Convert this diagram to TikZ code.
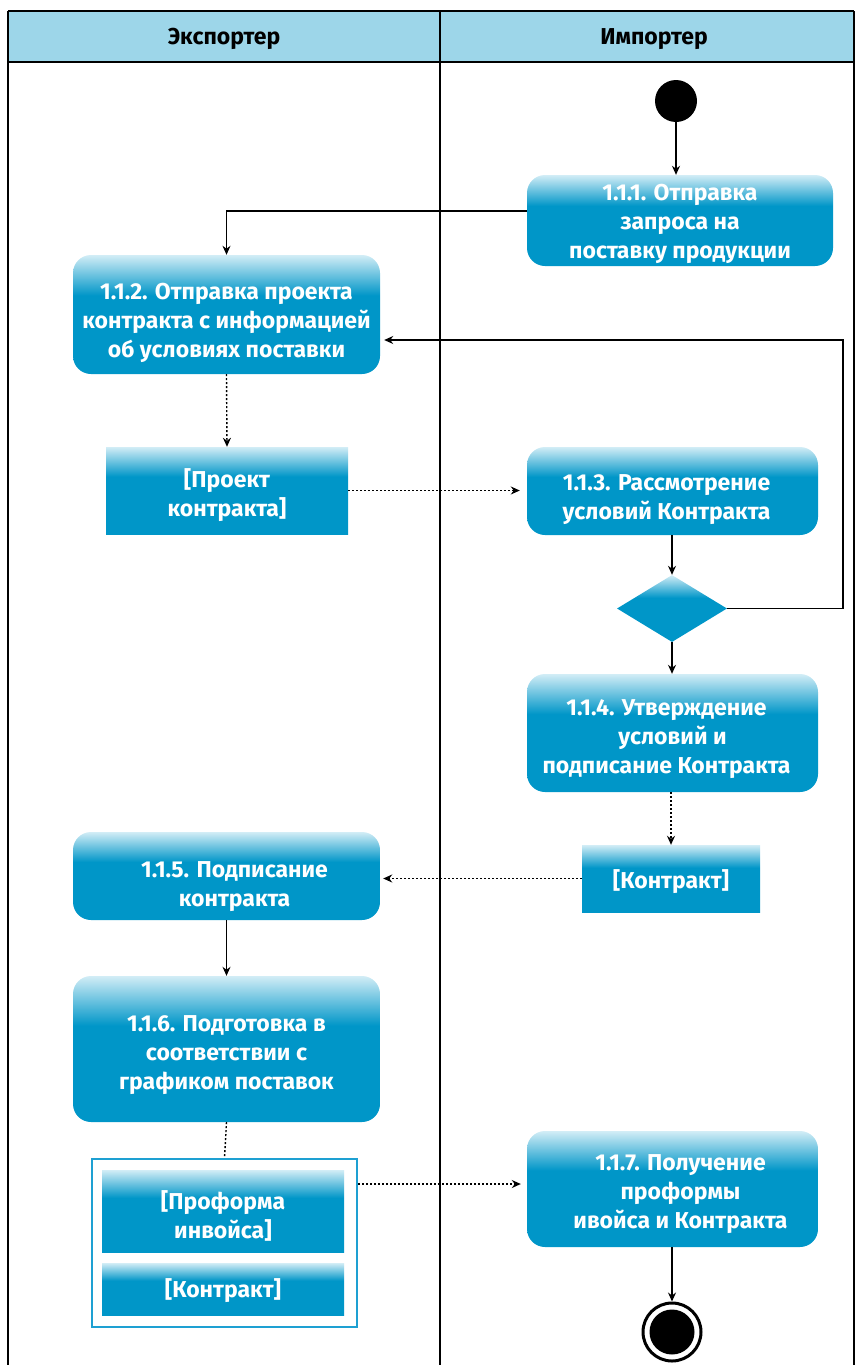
\documentclass[tikz,border=0pt]{standalone}
\usepackage{fontspec}
\setmainfont{Fira Sans}
\usetikzlibrary{arrows.meta,shapes.geometric}
\definecolor{actblue}{RGB}{0,150,200}
\definecolor{actlight}{RGB}{210,237,246}
\definecolor{hdr}{RGB}{157,214,233}
\definecolor{grpblue}{RGB}{30,160,210}
\pgfdeclareverticalshading{actshade}{100bp}{color(0bp)=(actblue); color(25bp)=(actblue); color(58bp)=(actblue); color(75bp)=(actlight); color(100bp)=(actlight)}
\newcommand{\padR}{\hspace*{16pt}}
\newcommand{\padL}{\hspace*{12pt}}
\newcommand{\tup}[1]{\rule{0pt}{#1pt}}
\tikzset{
  act/.style={rectangle, rounded corners=18pt, shading=actshade, text=white,
    font=\bfseries\fontsize{23}{29}\selectfont, align=center, inner sep=0pt},
  obj/.style={rectangle, shading=actshade, text=white,
    font=\bfseries\fontsize{23}{29}\selectfont, align=center, inner sep=0pt},
  lane/.style={line width=2pt, black},
  hdrtext/.style={font=\bfseries\fontsize{23}{26}\selectfont, inner sep=0pt},
  arr/.style={line width=1.2pt, -{Stealth[length=9pt,width=8pt]}},
  dotarr/.style={line width=1.4pt, dash pattern=on 2pt off 2pt, -{Stealth[length=9pt,width=8pt]}},
  dotline/.style={line width=1.4pt, dash pattern=on 2pt off 2pt},
}
\begin{document}
\begin{tikzpicture}[x=1pt,y=-1pt]
\useasboundingbox (0,0) rectangle (856,1365);
% pool
\fill[hdr] (8,11) rectangle (854,62);
\draw[lane] (8,11) -- (854,11);
\draw[lane] (8,62) -- (854,62);
\draw[lane] (8,11) -- (8,1365);
\draw[lane] (440,11) -- (440,1365);
\draw[lane] (854,11) -- (854,1365);
\node[hdrtext] (h1) at (224,39) {Экспортер};
\node[hdrtext] (h2) at (654,39) {Импортер};
% nodes
\node[circle, fill=black, minimum size=42pt, inner sep=0pt] (init) at (676,101) {};
\node[act, minimum width=306pt, minimum height=91pt] (a1) at (680,220.5) {\tup{23}1.1.1. Отправка\\запроса на\\поставку продукции};
\node[act, minimum width=307pt, minimum height=119pt] (a2) at (226.5,314.5) {\tup{34}1.1.2. Отправка проекта\\контракта с информацией\\об условиях поставки};
\node[obj, minimum width=242pt, minimum height=87pt] (proj) at (227,490.5) {\tup{29}[Проект\\контракта]};
\node[act, minimum width=291pt, minimum height=88pt] (a3) at (672.5,491) {\tup{33}1.1.3. Рассмотрение\padL\\условий Контракта\padL};
\node[diamond, shading=actshade, minimum width=110pt, minimum height=67pt, inner sep=0pt] (dec) at (672,608.5) {};
\node[act, minimum width=291pt, minimum height=118pt] (a4) at (672.5,733) {\tup{29}1.1.4. Утверждение\padL\\условий и\padL\\подписание Контракта\padL};
\node[obj, minimum width=178pt, minimum height=67pt] (k1) at (671,878.5) {\tup{25}[Контракт]};
\node[act, minimum width=307pt, minimum height=88pt] (a5) at (226.5,876) {\tup{37}\padR1.1.5. Подписание\\\padR контракта};
\node[act, minimum width=307pt, minimum height=146pt] (a6) at (226.5,1049) {\tup{29}1.1.6. Подготовка в\\соответствии с\\графиком поставок};
\node[rectangle, draw=grpblue, line width=2pt, fill=white, minimum width=265pt, minimum height=168pt, inner sep=0pt] (grp) at (224.5,1243) {};
\node[obj, minimum width=242pt, minimum height=82pt] (pf) at (223,1211) {\tup{29}[Проформа\\инвойса]};
\node[obj, minimum width=242pt, minimum height=52pt] (k2) at (223,1289) {\tup{23}[Контракт]};
\node[act, minimum width=291pt, minimum height=116pt] (a7) at (672.5,1189) {\tup{27}\padR1.1.7. Получение\\\padR проформы\\\padR ивойса и Контракта};
\node[circle, draw=black, line width=3pt, fill=white, minimum size=58pt, inner sep=0pt] (fin) at (672,1332) {};
\node[circle, fill=black, minimum size=45pt, inner sep=0pt] (fin2) at (fin) {};
\coordinate (loop) at (843,340);
% connectors
\draw[arr] (init.south) -- (init.south |- a1.north);
\draw[arr] ([yshift=9.5pt]a1.west) -| (a2.north);
\draw[dotarr] (a2.south) -- (proj.north);
\draw[dotarr, shorten >=7pt] (proj.east) -- (proj.east -| a3.west);
\draw[arr] (a3.south -| dec.north) -- (dec.north);
\draw[arr, shorten >=4pt] (dec.east) -| (loop) -- (loop -| a2.east);
\draw[arr] (dec.south) -- (dec.south |- a4.north);
\draw[dotarr] (a4.south -| k1.north) -- (k1.north);
\draw[dotarr, shorten >=3pt] (k1.west) -- (k1.west -| a5.east);
\draw[arr] (a5.south) -- (a6.north);
\draw[dotline] (a6.south) -- (grp.north);
\draw[dotarr, shorten >=6pt] ([yshift=59pt]grp.east) -- ([yshift=59pt]grp.east -| a7.west);
\draw[arr] (a7.south -| fin.north) -- (fin.north);
\end{tikzpicture}
\end{document}
